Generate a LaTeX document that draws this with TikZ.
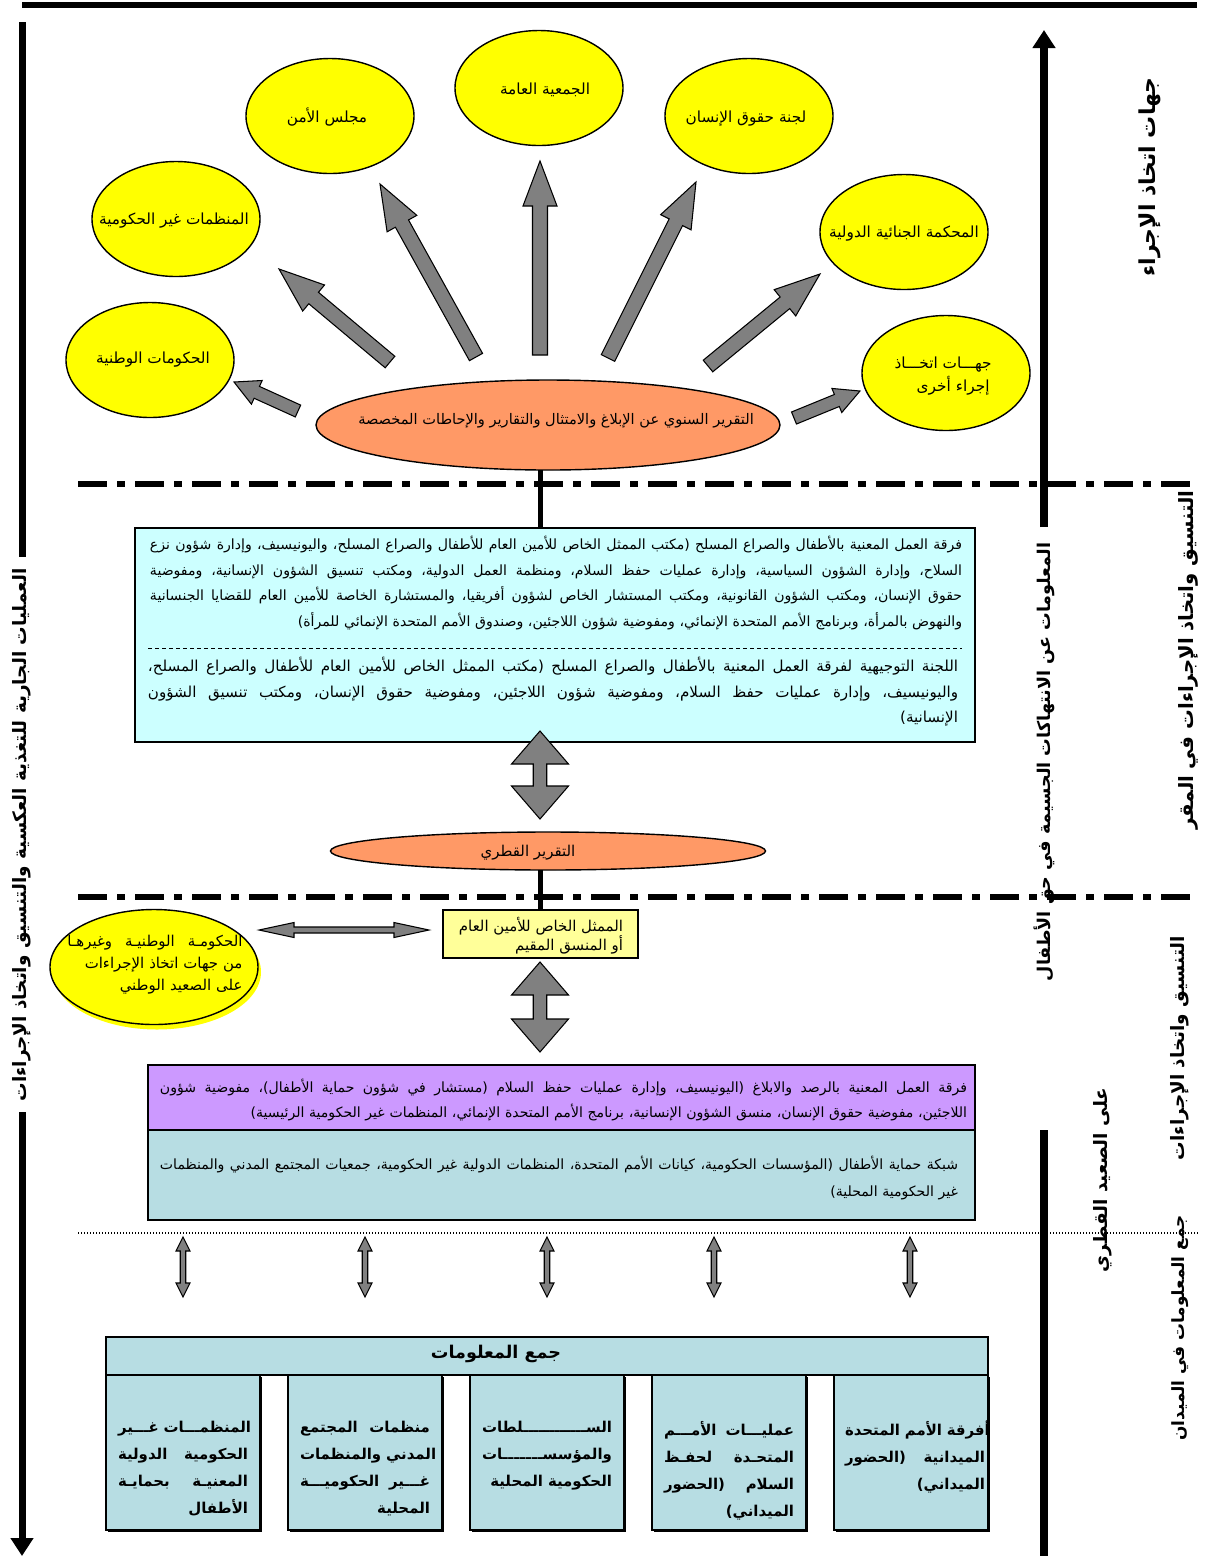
\documentclass[tikz,border=0pt]{standalone}
\usepackage{fontspec}
\newfontfamily\ar[Script=Arabic]{DejaVu Sans}
\usetikzlibrary{calc,arrows.meta,shapes.geometric}
\TeXXeTstate=1
\newcommand\AR[1]{\beginR#1\endR}
\def\jw#1 #2\jwEnd{#1\if\relax\detokenize{#2}\relax\else\hskip.32em plus 1fil\relax\jw#2\jwEnd\fi}
\newcommand\RL[1]{\noindent\hbox to\linewidth{\beginR\jw#1 \jwEnd\endR}\par}
\newcommand\RE[1]{\noindent\hbox to\linewidth{\hfill\beginR#1\endR}\par}
\newcommand\KS[2]{\noindent\hbox to\linewidth{\beginR#1\xleaders\hbox{ـ}\hfill#2\endR}\par}
\definecolor{yel}{HTML}{FFFF00}
\definecolor{org}{HTML}{FF9966}
\definecolor{cya}{HTML}{CCFFFF}
\definecolor{lyel}{HTML}{FFFF99}
\definecolor{pur}{HTML}{CC99FF}
\definecolor{tealb}{HTML}{B7DDE3}
\definecolor{arrg}{HTML}{808080}
\tikzset{
 fa w/.store in=\faw, fa W/.store in=\faW, fa h/.store in=\fah,
 fa w=1.5mm, fa W=3.4mm, fa h=9mm,
 fat/.style={draw=black, fill=arrg, line width=0.6pt,
   to path={let \p1=(\tikztostart), \p2=(\tikztotarget),
     \n1={atan2(\y2-\y1,\x2-\x1)}, \n2={veclen(\x2-\x1,\y2-\y1)} in
     ($(\p1)+(\n1+90:\faw)$)
     -- ($(\p1)+(\n1:\n2-\fah)+(\n1+90:\faw)$)
     -- ($(\p1)+(\n1:\n2-\fah)+(\n1+90:\faW)$)
     -- (\p2)
     -- ($(\p1)+(\n1:\n2-\fah)+(\n1-90:\faW)$)
     -- ($(\p1)+(\n1:\n2-\fah)+(\n1-90:\faw)$)
     -- ($(\p1)+(\n1-90:\faw)$) -- cycle}},
 dfat/.style={draw=black, fill=arrg, line width=0.6pt,
   to path={let \p1=(\tikztostart), \p2=(\tikztotarget),
     \n1={atan2(\y2-\y1,\x2-\x1)}, \n2={veclen(\x2-\x1,\y2-\y1)} in
     (\p1)
     -- ($(\p1)+(\n1:\fah)+(\n1+90:\faW)$)
     -- ($(\p1)+(\n1:\fah)+(\n1+90:\faw)$)
     -- ($(\p1)+(\n1:\n2-\fah)+(\n1+90:\faw)$)
     -- ($(\p1)+(\n1:\n2-\fah)+(\n1+90:\faW)$)
     -- (\p2)
     -- ($(\p1)+(\n1:\n2-\fah)+(\n1-90:\faW)$)
     -- ($(\p1)+(\n1:\n2-\fah)+(\n1-90:\faw)$)
     -- ($(\p1)+(\n1:\fah)+(\n1-90:\faw)$)
     -- ($(\p1)+(\n1:\fah)+(\n1-90:\faW)$)
     -- cycle}},
}
\begin{document}
\begin{tikzpicture}[x=0.2mm,y=-0.2mm,
  every node/.style={inner sep=0pt, outer sep=0pt},
  body/.style={font=\ar\fontsize{8}{14.6}\selectfont},
  ell/.style={ellipse, draw, line width=0.8pt},
  yell/.style={ell, fill=yel, minimum width=33.6mm, minimum height=23mm},
  etxt/.style={font=\ar\fontsize{8.7}{12}\selectfont},
  vtext/.style={rotate=90, font=\ar\bfseries\fontsize{10.5}{12}\selectfont},
  blk/.style={line width=1.4mm},
  dashdot/.style={line width=1.2mm, dash pattern=on 5.8mm off 2mm on 1.6mm off 2mm},
  box/.style={draw, line width=0.8pt, rectangle},
  bbox/.style={box, fill=tealb, minimum width=30.8mm, minimum height=31mm,
     preaction={fill=black, transform canvas={xshift=0.4mm, yshift=-0.4mm}}},
  btext/.style={text width=26mm, anchor=north, font=\ar\bfseries\fontsize{8.5}{15.4}\selectfont},
]
\useasboundingbox (0,0) rectangle (1230,1560);

% frame lines
\coordinate (T1) at (22,5); \coordinate (T2) at (1197,5);
\draw[line width=1.2mm] (T1) -- (T2);
\coordinate (L1) at (22,22); \coordinate (L2) at (22,557);
\coordinate (L3) at (22,1112); \coordinate (L4) at (22,1556);
\draw[blk] (L1) -- (L2);
\draw[blk, -{Triangle[length=3.6mm,width=4.4mm]}] (L3) -- (L4);
\node[vtext] (vL) at (22,835) {\AR{العمليات الجارية للتغذية العكسية والتنسيق واتخاذ الإجراءات}};

\coordinate (R1) at (1044,527); \coordinate (R2) at (1044,30);
\draw[line width=1.6mm, -{Triangle[length=3.6mm,width=4.4mm]}] (R1) -- (R2);
\coordinate (R3) at (1044,1130); \coordinate (R4) at (1044,1556);
\draw[line width=1.6mm] (R3) -- (R4);
\node[vtext, font=\ar\bfseries\fontsize{10}{12}\selectfont] (vM) at (1044,762) {\AR{المعلومات عن الانتهاكات الجسيمة في حق الأطفال}};

\node[vtext, font=\ar\bfseries\fontsize{12.5}{14}\selectfont] (vR1) at (1150,177) {\AR{جهات اتخاذ الإجراء}};
\node[vtext, font=\ar\bfseries\fontsize{11.2}{13}\selectfont] (vR2) at (1188,660) {\AR{التنسيق واتخاذ الإجراءات في المقر}};
\node[vtext] (vC) at (1103,1180) {\AR{على الصعيد القطري}};
\node[vtext] (vR3) at (1180,1048) {\AR{التنسيق واتخاذ الإجراءات}};
\node[vtext, font=\ar\bfseries\fontsize{9.6}{12}\selectfont] (vR4) at (1180,1328) {\AR{جمع المعلومات في الميدان}};

% separators
\coordinate (D1) at (78,484); \coordinate (D2) at (1200,484);
\draw[dashdot] (D1) -- (D2);
\coordinate (D3) at (78,897); \coordinate (D4) at (1200,897);
\draw[dashdot] (D3) -- (D4);
\coordinate (D5) at (78,1233); \coordinate (D6) at (1200,1233);
\draw[line width=0.25mm, dash pattern=on 0.25mm off 0.35mm] (D5) -- (D6);

% top ellipses
\node[yell] (gov) at (150,360) {};
\node[yell] (ngo) at (176,219) {};
\node[yell] (sc) at (330,116) {};
\node[yell] (ga) at (539,88) {};
\node[yell] (hrc) at (749,116) {};
\node[yell] (icc) at (904,232) {};
\node[yell] (oth) at (946,373) {};
\node[etxt] (govt) at (153,360) {\AR{الحكومات الوطنية}};
\node[etxt] (ngot) at (174,221) {\AR{المنظمات غير الحكومية}};
\node[etxt] (sct) at (327,117) {\AR{مجلس الأمن}};
\node[etxt] (gat) at (545,90) {\AR{الجمعية العامة}};
\node[etxt] (hrct) at (746,119) {\AR{لجنة حقوق الإنسان}};
\node[etxt] (icct) at (904,234) {\AR{المحكمة الجنائية الدولية}};
\node[etxt, text width=19mm, font=\ar\fontsize{8.7}{13.5}\selectfont] (otht) at (942,376) {\RL{جهـــات اتخـــاذ}\RE{إجراء أخرى}};

\node[ell, fill=org, minimum width=92.8mm, minimum height=18mm] (rep) at (548,425) {};
\node[font=\ar\fontsize{8.3}{12}\selectfont] (rept) at (556,421) {\AR{التقرير السنوي عن الإبلاغ والامتثال والتقارير والإحاطات المخصصة}};

% fat arrows
\coordinate (a1s) at (298,411); \coordinate (a1e) at (234,382);
\coordinate (a2s) at (390,362); \coordinate (a2e) at (279,269);
\coordinate (a3s) at (476,357); \coordinate (a3e) at (380,184);
\coordinate (a4s) at (540,355); \coordinate (a4e) at (540,161);
\coordinate (a5s) at (608,358); \coordinate (a5e) at (696,182);
\coordinate (a6s) at (708,366); \coordinate (a6e) at (820,274);
\coordinate (a7s) at (794,418); \coordinate (a7e) at (860,391);
\draw[fat, fa w=1.3mm, fa W=2.6mm, fa h=5mm] (a1s) to (a1e);
\draw[fat] (a2s) to (a2e);
\draw[fat] (a3s) to (a3e);
\draw[fat] (a4s) to (a4e);
\draw[fat] (a5s) to (a5e);
\draw[fat] (a6s) to (a6e);
\draw[fat, fa w=1.3mm, fa W=2.6mm, fa h=5mm] (a7s) to (a7e);

% task force box
\node[box, fill=cya, minimum width=168mm, minimum height=42.8mm] (tf) at (555,635) {};
\coordinate (lnx) at (540,0);
\draw[line width=1mm] (rep.south -| lnx) -- (tf.north -| lnx);
\node[body, text width=162.4mm, anchor=north] (tf1) at (556,536) {%
\RL{فرقة العمل المعنية بالأطفال والصراع المسلح (مكتب الممثل الخاص للأمين العام للأطفال والصراع المسلح، واليونيسيف، وإدارة شؤون نزع}%
\RL{السلاح، وإدارة الشؤون السياسية، وإدارة عمليات حفظ السلام، ومنظمة العمل الدولية، ومكتب تنسيق الشؤون الإنسانية، ومفوضية}%
\RL{حقوق الإنسان، ومكتب الشؤون القانونية، ومكتب المستشار الخاص لشؤون أفريقيا، والمستشارة الخاصة للأمين العام للقضايا الجنسانية}%
\RE{والنهوض بالمرأة، وبرنامج الأمم المتحدة الإنمائي، ومفوضية شؤون اللاجئين، وصندوق الأمم المتحدة الإنمائي للمرأة)}}; 
\coordinate (s1) at (148,648); \coordinate (s2) at (962,648);
\draw[line width=0.5pt, dash pattern=on 0.8mm off 0.6mm] (s1) -- (s2);
\node[font=\ar\fontsize{8.6}{14.6}\selectfont, text width=162mm, anchor=north] (tf2) at (553,657) {%
\RL{اللجنة التوجيهية لفرقة العمل المعنية بالأطفال والصراع المسلح (مكتب الممثل الخاص للأمين العام للأطفال والصراع المسلح،}%
\RL{واليونيسيف، وإدارة عمليات حفظ السلام، ومفوضية شؤون اللاجئين، ومفوضية حقوق الإنسان، ومكتب تنسيق الشؤون}%
\RE{الإنسانية)}};

\coordinate (b1s) at (540,731); \coordinate (b1e) at (540,819);
\draw[dfat, fa w=1.35mm, fa W=5.7mm, fa h=6.6mm] (b1s) to (b1e);

\node[ell, fill=org, minimum width=87mm, minimum height=7.6mm] (cr) at (548,851) {};
\node[font=\ar\fontsize{8.5}{12}\selectfont] (crt) at (528,853) {\AR{التقرير القطري}};

% SRSG box
\node[box, fill=lyel, minimum width=39mm, minimum height=9.6mm] (srsg) at (540.5,934) {};
\draw[line width=1mm] (cr.south -| lnx) -- (srsg.north -| lnx);
\node[font=\ar\fontsize{8.5}{10.8}\selectfont, align=right, anchor=east] (srsgt) at (623,936) {\AR{الممثل الخاص للأمين العام}\\\AR{أو المنسق المقيم}};

% national government ellipse
\node[ellipse, fill=yel, minimum width=41.6mm, minimum height=23mm] (natsh) at (157,972) {};
\node[ell, fill=yel, minimum width=41.6mm, minimum height=23mm] (nat) at (154,967) {};
\node[font=\ar\fontsize{8.5}{12.5}\selectfont, text width=35mm, anchor=north] (natt) at (155,935) {\RL{الحكومـة الوطنيـة وغيرهـا}\RE{من جهات اتخاذ الإجراءات}\RE{على الصعيد الوطني}};
\coordinate (h1) at (259,930); \coordinate (h2) at (429,930);
\draw[dfat, fa w=0.6mm, fa W=1.5mm, fa h=7mm] (h1) to (h2);

\coordinate (b2s) at (540,962); \coordinate (b2e) at (540,1052);
\draw[dfat, fa w=1.35mm, fa W=5.7mm, fa h=6.6mm] (b2s) to (b2e);

% MRM and CPN boxes
\node[box, fill=pur, minimum width=165.4mm, minimum height=13mm] (mrm) at (561.5,1097.5) {};
\node[box, fill=tealb, minimum width=165.4mm, minimum height=18mm] (cpn) at (561.5,1175) {};
\node[font=\ar\fontsize{8}{14.2}\selectfont, text width=161.4mm, anchor=north] (mrmt) at (563.5,1079) {%
\RL{فرقة العمل المعنية بالرصد والابلاغ (اليونيسيف، وإدارة عمليات حفظ السلام (مستشار في شؤون حماية الأطفال)، مفوضية شؤون}%
\RE{اللاجئين، مفوضية حقوق الإنسان، منسق الشؤون الإنسانية، برنامج الأمم المتحدة الإنمائي، المنظمات غير الحكومية الرئيسية)}};
\node[font=\ar\fontsize{8}{15.4}\selectfont, text width=159.6mm, anchor=north] (cpnt) at (559,1156) {%
\RL{شبكة حماية الأطفال (المؤسسات الحكومية، كيانات الأمم المتحدة، المنظمات الدولية غير الحكومية، جمعيات المجتمع المدني والمنظمات}%
\RE{غير الحكومية المحلية)}};

% small double arrows
\foreach \i/\xx in {1/183,2/365,3/547,4/714,5/910}{
  \coordinate (u\i) at (\xx,1237); \coordinate (d\i) at (\xx,1297);
  \draw[dfat, fa w=0.55mm, fa W=1.4mm, fa h=2.8mm] (u\i) to (d\i);
}

% information collection
\node[box, fill=tealb, minimum width=176.4mm, minimum height=7.6mm] (ic) at (547,1356) {};
\node[font=\ar\bfseries\fontsize{10}{12}\selectfont] (ict) at (496,1354) {\AR{جمع المعلومات}};

\node[bbox] (bx1) at (183,1452.5) {};
\node[bbox] (bx2) at (365,1452.5) {};
\node[bbox] (bx3) at (547,1452.5) {};
\node[bbox] (bx4) at (729,1452.5) {};
\node[bbox] (bx5) at (911,1452.5) {};
\node[btext] (bt1) at (183,1421) {\RL{المنظمـــات غـــير}\RL{الحكومية الدولية}\RL{المعنيـة بحمايـة}\RE{الأطفال}};
\node[btext] (bt2) at (365,1421) {\RL{منظمات المجتمع}\RL{المدني والمنظمات}\RL{غـــير الحكوميـــة}\RE{المحلية}};
\node[btext] (bt3) at (547,1421) {\KS{السـ}{ـلطات}\KS{والمؤسسـ}{ـات}\RE{الحكومية المحلية}};
\node[btext] (bt4) at (729,1421) {\RL{عمليـــات الأمـــم}\RL{المتحـدة لحفـظ}\RL{السلام (الحضور}\RE{الميداني)}};
\node[btext, text width=28mm] (bt5) at (915,1421) {\RL{أفرقة الأمم المتحدة}\RL{الميدانية (الحضور}\RE{الميداني)}};
\end{tikzpicture}
\end{document}
